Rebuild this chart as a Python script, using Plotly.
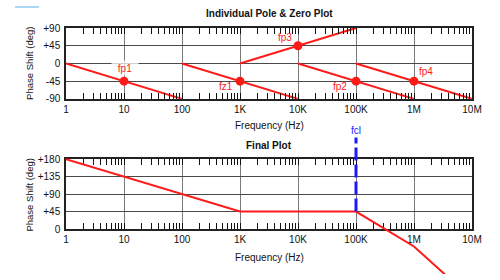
import math
import plotly.graph_objects as go

# ---------------- data ----------------
freq_ticks = [1, 10, 100, 1e3, 1e4, 1e5, 1e6, 1e7]
freq_labels = ["1", "10", "100", "1K", "10K", "100K", "1M", "10M"]

top_ticks = [-90, -45, 0, 45, 90]
top_labels = ["-90", "-45", "0", "+45", "+90"]
bot_ticks = [0, 45, 90, 135, 180]
bot_labels = ["0", "+45", "+90", "+135", "+180"]

# individual asymptotes
names = ["fp1", "fz1", "fp3", "fp2", "fp4"]
seg_f0 = [1, 100, 1e3, 1e4, 1e5]
seg_f1 = [100, 1e4, 1e5, 1e6, 1e7]
seg_p0 = [0, 0, 0, 0, 0]
seg_p1 = [-90, -90, 90, -90, -90]
mark_f = [10, 1e3, 1e4, 1e5, 1e6]
mark_p = [-45, -45, 45, -45, -45]

final_f = [1, 1e3, 1e5, 1e6, 1e7]
final_p = [180, 45, 45, -45, -180]

fcl_f = 1e5
fcl_p = [45, 236]

# ---------------- layout (pixels) ----------------
W, H = 500, 280
L, R = 66, 472
TOP_Y0, TOP_Y1 = 23, 97
BOT_Y0, BOT_Y1 = 160, 233

def pf(y):
    return 1 - y / H

def px(x):
    return (x - L) / (R - L)

deg_per_px = 180 / (BOT_Y1 - BOT_Y0)
ov_lo = 0 - (H - BOT_Y1) * deg_per_px
ov_hi = 180 + BOT_Y0 * deg_per_px

RED = "#ff1a1a"
BLUE = "#1a1aff"
FONT = "Liberation Sans, Arial, sans-serif"
TXT = "#111"

# axis tick positions: every digit of every decade, labels only on decades
all_ticks, all_text = [], []
for d, lab in zip(freq_ticks, freq_labels):
    if d == freq_ticks[-1]:
        all_ticks.append(d); all_text.append(lab)
        break
    for k in range(1, 10):
        all_ticks.append(d * k)
        all_text.append(lab if k == 1 else "")

fig = go.Figure()

for i, n in enumerate(names):
    fig.add_trace(go.Scatter(x=[seg_f0[i], seg_f1[i]], y=[seg_p0[i], seg_p1[i]],
                             mode="lines", line=dict(color=RED, width=2),
                             xaxis="x", yaxis="y", showlegend=False, hoverinfo="skip"))
fig.add_trace(go.Scatter(x=mark_f, y=mark_p, mode="markers",
                         marker=dict(color=RED, size=9), xaxis="x", yaxis="y",
                         showlegend=False, hoverinfo="skip"))

# keeps the bottom subplot alive (no visible mark)
fig.add_trace(go.Scatter(x=final_f, y=final_p, mode="none", xaxis="x2", yaxis="y2",
                         showlegend=False, hoverinfo="skip"))

fig.add_trace(go.Scatter(x=final_f, y=final_p, mode="lines",
                         line=dict(color=RED, width=2), xaxis="x3", yaxis="y3",
                         showlegend=False, hoverinfo="skip"))
fig.add_trace(go.Scatter(x=[fcl_f, fcl_f], y=fcl_p, mode="lines",
                         line=dict(color=BLUE, width=3, dash="13px,4px"),
                         xaxis="x3", yaxis="y3", showlegend=False, hoverinfo="skip"))

xcommon = dict(type="log", range=[0, 7], tickvals=all_ticks, ticktext=all_text,
               showgrid=False,
               showline=True, linecolor="#222", linewidth=1.5, mirror="ticks",
               ticks="inside", ticklen=6, tickcolor="#111", tickwidth=1,
               tickfont=dict(size=10, color=TXT, family=FONT),
               minor=dict(tickvals=freq_ticks, ticks="", showgrid=True,
                          gridcolor="#7a7a7a", gridwidth=1.2),
               zeroline=False, domain=[0, 1], fixedrange=True)
ycommon = dict(showgrid=True, gridcolor="#4a4a4a", gridwidth=1,
               showline=True, linecolor="#222", linewidth=1.5, mirror=True,
               ticks="", ticklabelstandoff=2,
               tickfont=dict(size=10, color=TXT, family=FONT),
               zeroline=False, fixedrange=True)

fig.update_layout(
    width=W, height=H, margin=dict(l=L, r=W - R, t=0, b=0),
    paper_bgcolor="white", plot_bgcolor="rgba(0,0,0,0)",
    font=dict(family=FONT, size=10, color=TXT),
    xaxis=dict(anchor="y", **xcommon),
    yaxis=dict(anchor="x", domain=[pf(TOP_Y1), pf(TOP_Y0)], range=[-90, 90],
               tickvals=top_ticks, ticktext=top_labels, **ycommon),
    xaxis2=dict(anchor="y2", **xcommon),
    yaxis2=dict(anchor="x2", domain=[pf(BOT_Y1), pf(BOT_Y0)], range=[0, 180],
                tickvals=bot_ticks, ticktext=bot_labels, **ycommon),
    xaxis3=dict(type="log", range=[0, 7], domain=[0, 1], anchor="y3", visible=False,
                fixedrange=True),
    yaxis3=dict(range=[ov_lo, ov_hi], domain=[0, 1], anchor="x3", visible=False,
                fixedrange=True),
    showlegend=False,
)

# point labels (annotation x on log axes is given in log10 units)
shifts = {"fp1": (1, 13), "fz1": (-14, -5), "fp3": (-13, 8), "fp2": (-16, -5), "fp4": (12, 10)}
for i, n in enumerate(names):
    dx, dy = shifts[n]
    extra = dict(bgcolor="rgba(255,255,255,0.75)", width=24, height=12, borderpad=1) if n == "fp1" else {}
    fig.add_annotation(x=math.log10(mark_f[i]), y=mark_p[i], xref="x", yref="y", text=n,
                       showarrow=False, xshift=dx, yshift=dy,
                       font=dict(color=RED, size=10, family=FONT), **extra)

fig.add_annotation(x=math.log10(fcl_f), y=fcl_p[1], xref="x3", yref="y3", text="fcl",
                   showarrow=False, yanchor="bottom", yshift=-1,
                   font=dict(color=BLUE, size=10, family=FONT))

title_font = dict(size=10, color=TXT, family=FONT)
fig.add_annotation(x=0.5, y=pf(8), xref="paper", yref="paper", text="<b>Individual Pole & Zero Plot</b>",
                   showarrow=False, yanchor="middle", font=title_font)
fig.add_annotation(x=0.5, y=pf(146), xref="paper", yref="paper", text="<b>Final Plot</b>",
                   showarrow=False, yanchor="middle", font=title_font)
fig.add_annotation(x=0.5, y=pf(125), xref="paper", yref="paper", text="Frequency (Hz)",
                   showarrow=False, yanchor="middle", font=title_font)
fig.add_annotation(x=0.5, y=pf(263), xref="paper", yref="paper", text="Frequency (Hz)",
                   showarrow=False, yanchor="middle", font=title_font)
axis_title_font = dict(size=9.5, color=TXT, family=FONT)
fig.add_annotation(x=px(29.5), y=pf((TOP_Y0 + TOP_Y1) / 2), xref="paper", yref="paper",
                   text="Phase Shift (deg)", textangle=-90, showarrow=False,
                   xanchor="center", yanchor="middle", font=axis_title_font)
fig.add_annotation(x=px(29.5), y=pf((BOT_Y0 + BOT_Y1) / 2 + 1), xref="paper", yref="paper",
                   text="Phase Shift (deg)", textangle=-90, showarrow=False,
                   xanchor="center", yanchor="middle", font=axis_title_font)

fig.add_shape(type="rect", xref="paper", yref="paper", x0=px(15), x1=px(39), y0=pf(2), y1=1,
              line=dict(width=0), fillcolor="#a9d5f5", layer="above")

fig.write_html("out.html")
